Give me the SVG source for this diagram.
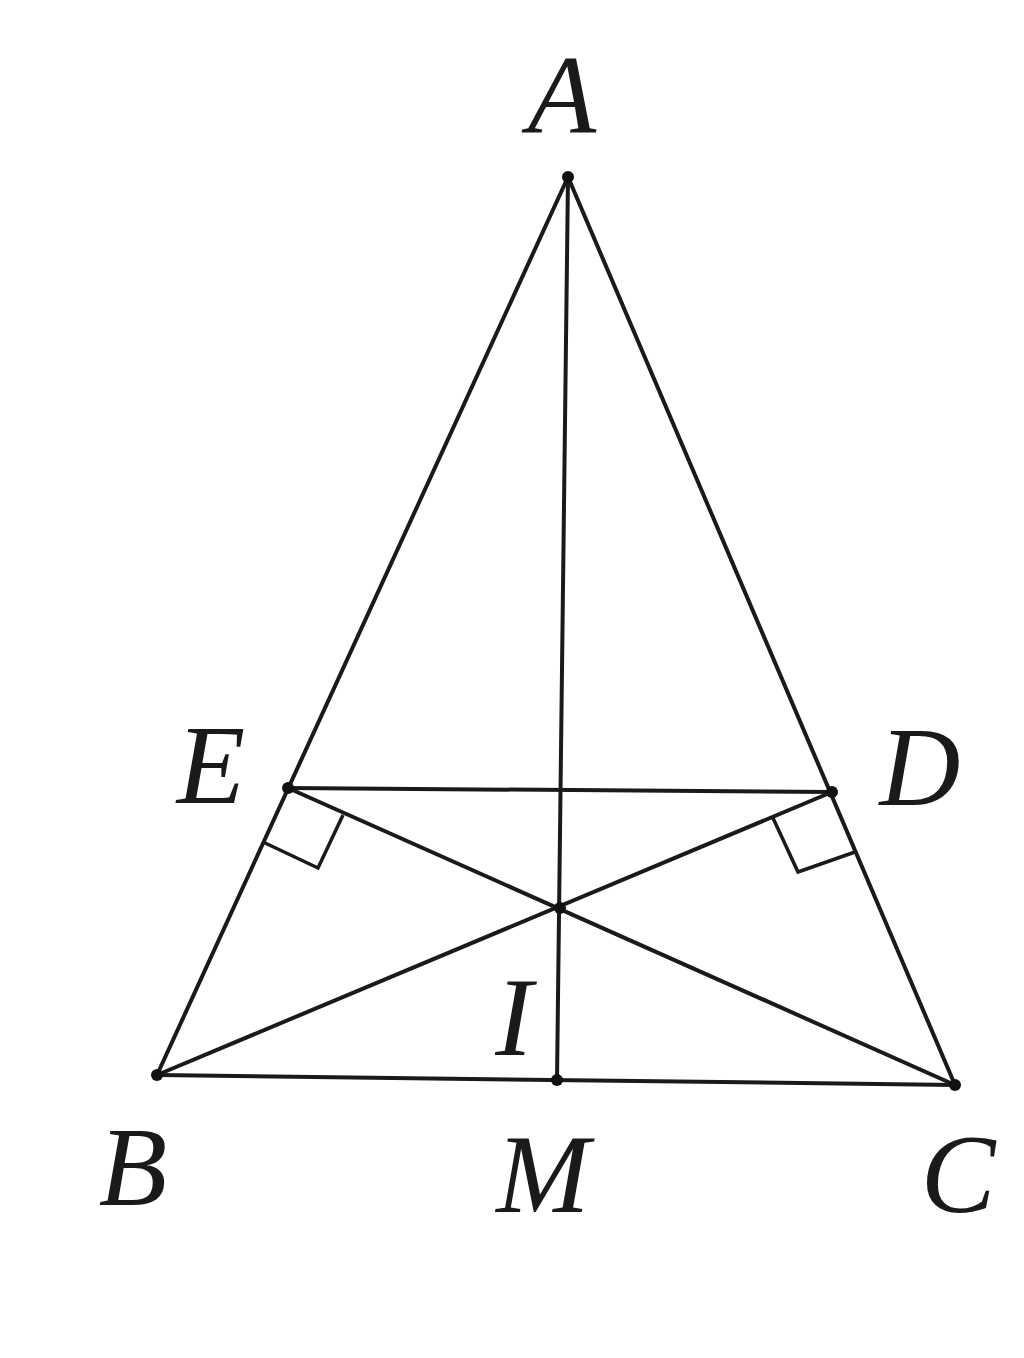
<svg xmlns="http://www.w3.org/2000/svg" width="1024" height="1358" viewBox="0 0 1024 1358">
<style>
.ln{stroke:#1a1a1a;stroke-width:4;fill:none;stroke-linecap:round}
.rt{stroke:#1a1a1a;stroke-width:3.5;fill:none}
.pt{fill:#111}
.lb{font-family:"Liberation Serif","DejaVu Serif",serif;font-style:italic;font-size:112px;fill:#1a1a1a;text-anchor:middle}
</style>
<rect width="1024" height="1358" fill="#fff"/>
<g id="connectors">
<line class="ln" x1="568" y1="177" x2="157" y2="1075"/>
<line class="ln" x1="568" y1="177" x2="955" y2="1085"/>
<line class="ln" x1="157" y1="1075" x2="955" y2="1085"/>
<line class="ln" x1="568" y1="177" x2="557" y2="1080"/>
<line class="ln" x1="288" y1="788" x2="832" y2="792"/>
<line class="ln" x1="157" y1="1075" x2="832" y2="792"/>
<line class="ln" x1="955" y1="1085" x2="288" y2="788"/>
<polyline class="rt" points="263,842 318,868 343,815"/>
<polyline class="rt" points="855,852 798,872 773,818"/>
</g>
<g id="A"><circle class="pt" cx="568" cy="177" r="6"/><text class="lb" x="562" y="133">A</text></g>
<g id="B"><circle class="pt" cx="157" cy="1075" r="6"/><text class="lb" x="133" y="1205">B</text></g>
<g id="C"><circle class="pt" cx="955" cy="1085" r="6"/><text class="lb" x="958" y="1212">C</text></g>
<g id="M"><circle class="pt" cx="557" cy="1080" r="6"/><text class="lb" x="543" y="1212">M</text></g>
<g id="E"><circle class="pt" cx="288" cy="788" r="6"/><text class="lb" x="211" y="803">E</text></g>
<g id="D"><circle class="pt" cx="832" cy="792" r="6"/><text class="lb" x="920" y="805">D</text></g>
<g id="I"><circle class="pt" cx="560" cy="908" r="6"/><text class="lb" x="514" y="1055">I</text></g>
</svg>
